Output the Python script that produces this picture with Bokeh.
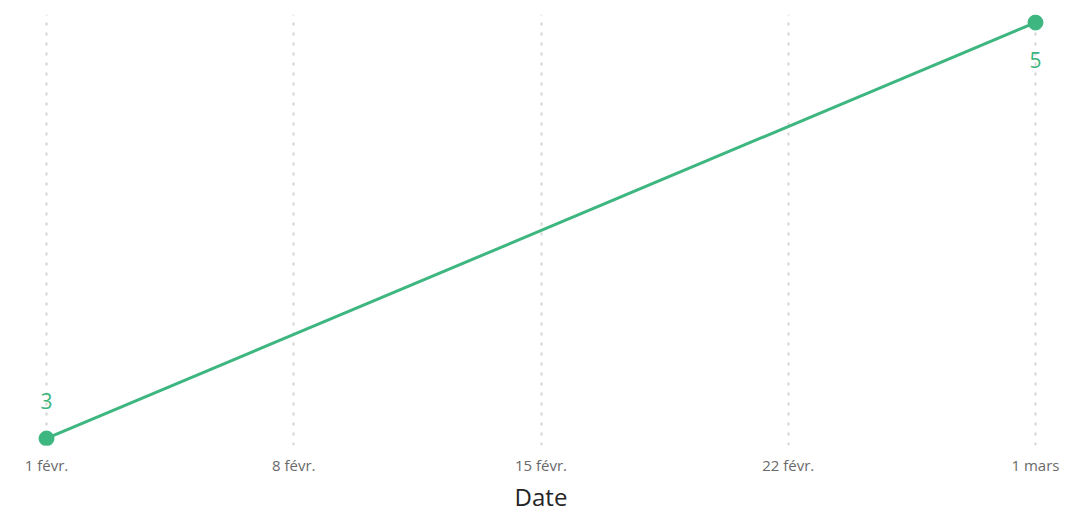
from datetime import datetime, timedelta
from bokeh.plotting import figure
from bokeh.models import ColumnDataSource, Range1d, FixedTicker
from bokeh.core.properties import value
from bokeh.embed import file_html
from bokeh.resources import INLINE

dates = [datetime(2021, 2, 1), datetime(2021, 3, 1)]
values = [3, 5]
labels = ["3", "5"]
tick_dates = [datetime(2021, 2, 1), datetime(2021, 2, 8), datetime(2021, 2, 15),
              datetime(2021, 2, 22), datetime(2021, 3, 1)]
tick_labels = ["1 févr.", "8 févr.", "15 févr.", "22 févr.", "1 mars"]

GREEN = "#3DB67F"
FONT = "Open Sans"

def ms(d):
    return (d - datetime(1970, 1, 1)).total_seconds() * 1000.0

pad = timedelta(days=0.793)
p = figure(width=1066, height=515, output_backend="svg", toolbar_location=None,
           x_axis_type="datetime",
           x_range=Range1d(dates[0] - pad, dates[-1] + pad),
           y_range=Range1d(2.9663, 5.0386),
           min_border_left=18, min_border_right=3, min_border_top=14, min_border_bottom=0)
p.outline_line_color = None
p.background_fill_color = "white"
p.border_fill_color = "white"

src = ColumnDataSource(dict(x=dates, y=values, t=labels, off=[-37, 37]))
p.line("x", "y", source=src, line_color=GREEN, line_width=3)
p.scatter("x", "y", source=src, size=15, fill_color=GREEN, line_color=GREEN)
p.text("x", "y", text="t", source=src, y_offset="off", text_align="center",
       text_baseline="middle", text_color=GREEN, text_font_size="21px",
       text_font=value(FONT))

p.yaxis.visible = False
p.ygrid.visible = False

ax = p.xaxis[0]
ax.ticker = FixedTicker(ticks=[ms(d) for d in tick_dates])
ax.major_label_overrides = {ms(d): l for d, l in zip(tick_dates, tick_labels)}
ax.axis_line_color = None
ax.major_tick_line_color = None
ax.minor_tick_line_color = None
ax.major_label_standoff = 3
ax.major_label_text_font = FONT
ax.major_label_text_font_size = "15px"
ax.major_label_text_color = "#6a6a6a"
ax.axis_label = "Date"
ax.axis_label_text_font = FONT
ax.axis_label_text_font_size = "24px"
ax.axis_label_text_font_style = "normal"
ax.axis_label_text_color = "#252525"
ax.axis_label_standoff = 2

p.xgrid.ticker = FixedTicker(ticks=[ms(d) for d in tick_dates])
p.xgrid.grid_line_color = "#d4d4d4"
p.xgrid.grid_line_width = 2
p.xgrid.grid_line_dash = "3 7"

open("out.html", "w").write(file_html(p, INLINE))
